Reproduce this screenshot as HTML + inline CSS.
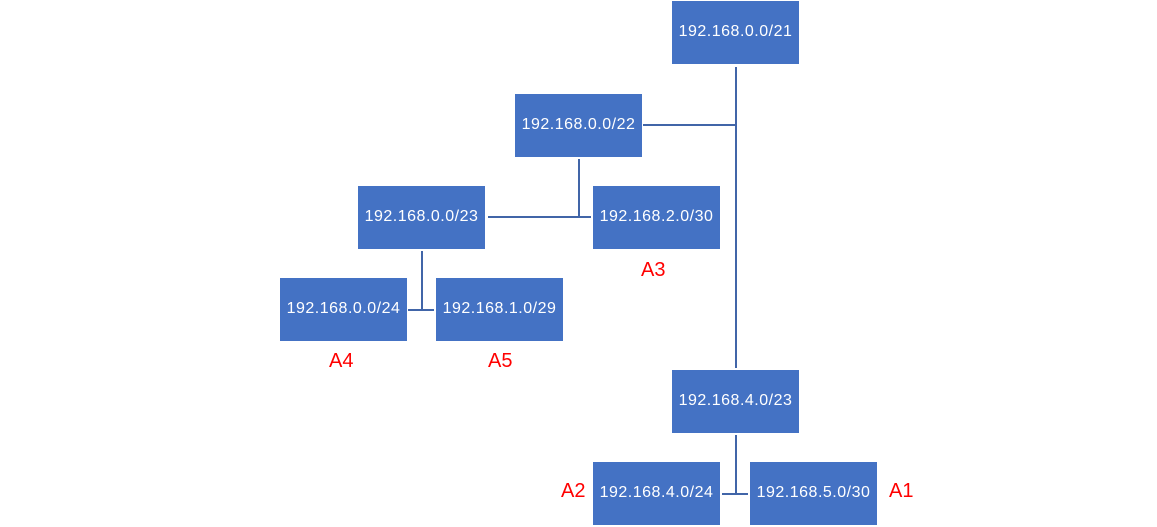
<!DOCTYPE html>
<html><head><style>
body{margin:0;width:1157px;height:527px;background:#fff;position:relative;overflow:hidden;font-family:"Liberation Sans",sans-serif}
.b{position:absolute;width:127px;height:63px;background:#4472C4;color:#fff;font-size:16px;letter-spacing:0.5px;display:flex;align-items:center;justify-content:center;padding-bottom:2px;box-sizing:border-box}
.l{position:absolute;background:#4165A8}
.a{position:absolute;color:#f00;font-size:20px}
</style></head><body>
<div class="b" style="left:672px;top:1px">192.168.0.0/21</div>
<div class="b" style="left:515px;top:94px">192.168.0.0/22</div>
<div class="b" style="left:358px;top:186px">192.168.0.0/23</div>
<div class="b" style="left:593px;top:186px">192.168.2.0/30</div>
<div class="b" style="left:280px;top:278px">192.168.0.0/24</div>
<div class="b" style="left:436px;top:278px">192.168.1.0/29</div>
<div class="b" style="left:672px;top:370px">192.168.4.0/23</div>
<div class="b" style="left:593px;top:462px">192.168.4.0/24</div>
<div class="b" style="left:750px;top:462px">192.168.5.0/30</div>

<div class="l" style="left:735px;top:67px;width:2px;height:301px"></div>
<div class="l" style="left:643px;top:124px;width:93px;height:2px"></div>
<div class="l" style="left:578px;top:159px;width:2px;height:58px"></div>
<div class="l" style="left:488px;top:216px;width:103px;height:2px"></div>
<div class="l" style="left:421px;top:251px;width:2px;height:59px"></div>
<div class="l" style="left:408px;top:309px;width:26px;height:2px"></div>
<div class="l" style="left:735px;top:435px;width:2px;height:59px"></div>
<div class="l" style="left:722px;top:493px;width:26px;height:2px"></div>

<div class="a" style="left:641px;top:259px">A3</div>
<div class="a" style="left:329px;top:350px">A4</div>
<div class="a" style="left:488px;top:350px">A5</div>
<div class="a" style="left:561px;top:480px">A2</div>
<div class="a" style="left:889px;top:480px">A1</div>
</body></html>
